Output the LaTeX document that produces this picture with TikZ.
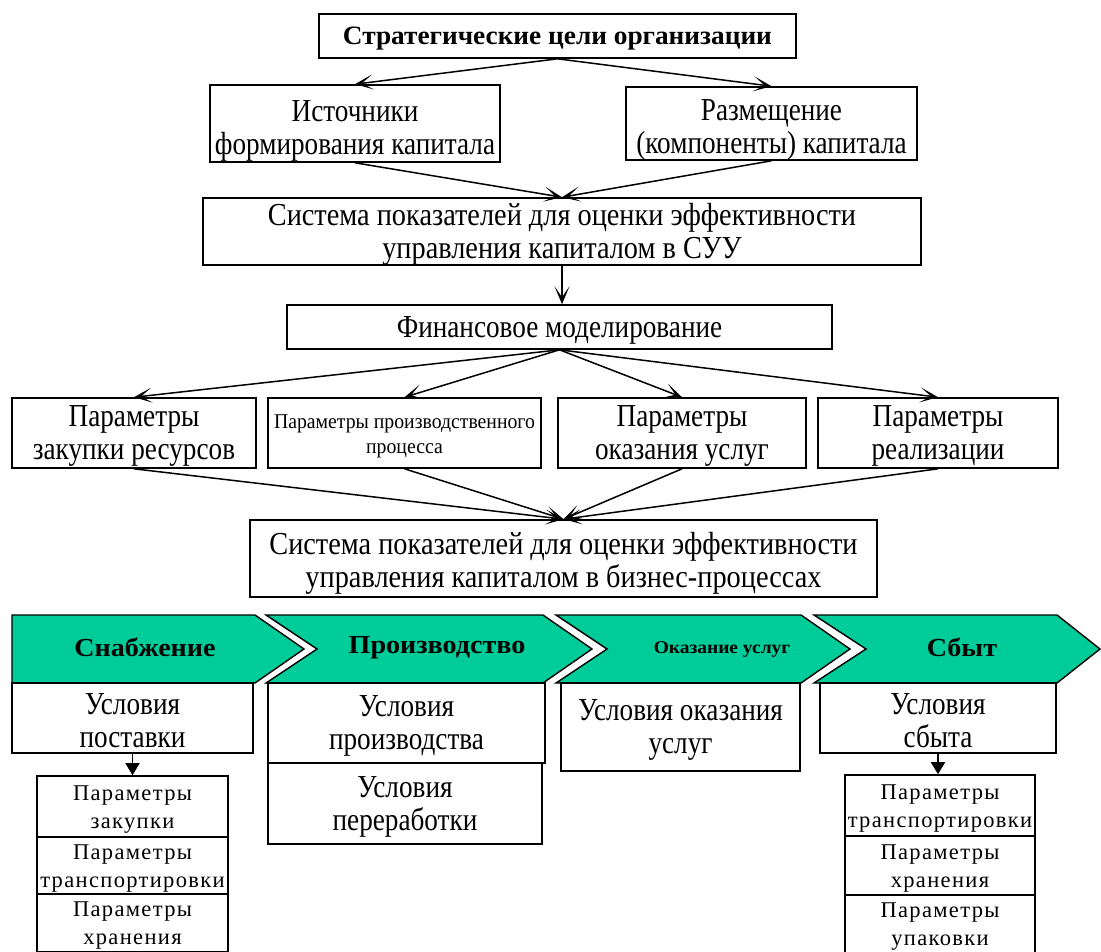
\documentclass[tikz,border=0pt]{standalone}
\usepackage{fontspec}
\setmainfont{Liberation Serif}
\newfontfamily\bodyfont[FakeStretch=0.85]{Liberation Serif}
\newfontfamily\widefont[FakeStretch=0.885]{Liberation Serif}
\newfontfamily\smallfont[FakeStretch=0.94]{Liberation Serif}
\newfontfamily\titlefont[FakeStretch=1.03]{Liberation Serif}
\newfontfamily\chevfont[FakeStretch=1.08]{Liberation Serif}
\newfontfamily\okfont[FakeStretch=1.08]{Liberation Serif}
\newfontfamily\spacedfont[LetterSpace=6]{Liberation Serif}
\usetikzlibrary{arrows.meta}
\definecolor{chevgreen}{RGB}{0,204,153}
\tikzset{
  frame/.style={draw=black, line width=1.6pt, fill=white, inner sep=0pt},
  body/.style={inner sep=0pt, align=center, font=\bodyfont\fontsize{32}{33}\selectfont},
  widebody/.style={inner sep=0pt, align=center, font=\widefont\fontsize{32}{33}\selectfont},
  smallbody/.style={inner sep=0pt, align=center, font=\smallfont\fontsize{21}{25}\selectfont},
  spaced/.style={inner sep=0pt, align=center, font=\spacedfont\fontsize{22.5}{28}\selectfont},
  titletext/.style={inner sep=0pt, font=\titlefont\bfseries\fontsize{26.5}{30}\selectfont},
  chev/.style={draw=black, line width=1.4pt, fill=chevgreen},
  chevlabel/.style={inner sep=0pt, font=\chevfont\bfseries\fontsize{26}{30}\selectfont},
  conn/.style={line width=1.5pt, -{Stealth[length=18pt,width=15pt,inset=11pt]}},
  down/.style={line width=1.6pt, -{Triangle[length=12pt,width=14pt]}}
}
% [extra text drop], name, cx, cy, w, h, text style, text
\newcommand\tbox[8][0]{%
  \node[frame, minimum width=#5pt, minimum height=#6pt] (#2) at (#3,#4) {};
  \node[#7] (#2-t) at ([yshift={-(3+#1)*1pt}]#2.center) {#8};}
\begin{document}
\begin{tikzpicture}[x=1pt,y=-1pt]
\clip (0,0) rectangle (1101,951);
\fill[white] (0,0) rectangle (1101,951);

% top part
\tbox{goal}{557.5}{36}{477}{44}{titletext}{Стратегические цели организации}
\tbox[4]{src}{355}{123.5}{290}{77}{body}{Источники\\формирования капитала}
\tbox[3]{plc}{771.5}{123.5}{291}{73}{body}{Размещение\\(компоненты) капитала}
\tbox{suu}{562}{231.5}{718}{67}{widebody}{Система показателей для оценки эффективности\\управления капиталом в СУУ}
\tbox{fin}{559.5}{327}{545}{44}{body}{Финансовое моделирование}

\tbox{p1}{134}{433}{244}{70}{body}{Параметры\\закупки ресурсов}
\tbox{p2}{404.5}{433}{273}{70}{smallbody}{Параметры производственного\\процесса}
\tbox{p3}{682}{433}{248}{70}{body}{Параметры\\оказания услуг}
\tbox{p4}{938}{433}{240}{70}{body}{Параметры\\реализации}

\tbox[2]{bp}{563.5}{558.5}{627}{77}{widebody}{Система показателей для оценки эффективности\\управления капиталом в бизнес-процессах}

\draw[conn] (goal.south) -- (src.north);
\draw[conn] (goal.south) -- (plc.north);
\draw[conn] (src.south) -- (suu.north);
\draw[conn] (plc.south) -- (suu.north);
\draw[conn] (suu.south) -- (suu.south |- fin.north);
\foreach \p in {p1,p2,p3,p4} {
  \draw[conn] (fin.south) -- (\p.north);
  \draw[conn] (\p.south) -- (bp.north);
}

% chevrons
\draw[chev] (12,615) -- (255,615) -- (304,649) -- (255,683) -- (12,683) -- cycle;
\draw[chev] (266,615) -- (543,615) -- (592,649) -- (543,683) -- (266,683) -- (317,649) -- cycle;
\draw[chev] (556,615) -- (801,615) -- (850,649) -- (801,683) -- (556,683) -- (607,649) -- cycle;
\draw[chev] (814,615) -- (1057,615) -- (1100,649) -- (1057,683) -- (814,683) -- (866,649) -- cycle;
\node[chevlabel] (c1) at (145,647) {Снабжение};
\node[chevlabel] (c2) at (437,648) {Производство};
\node[chevlabel, font=\okfont\bfseries\fontsize{18}{22}\selectfont] (c3) at (722,649) {Оказание услуг};
\node[chevlabel] (c4) at (962,647) {Сбыт};

% lower boxes
\tbox{us1}{132.5}{718}{241}{70}{body}{Условия\\поставки}
\tbox{s1a}{132.5}{806.5}{191}{61}{spaced}{Параметры\\закупки}
\tbox{s1b}{132.5}{865.5}{191}{57}{spaced}{Параметры\\транспортировки}
\tbox{s1c}{132.5}{923}{191}{58}{spaced}{Параметры\\хранения}
\draw[down] (us1.south) -- (s1a.north);

\tbox{up}{406.5}{723}{277}{80}{body}{Условия\\производства}
\tbox{pr}{405}{803.5}{274}{81}{body}{Условия\\переработки}

\tbox{uo}{680.5}{727}{239}{88}{body}{Условия оказания\\услуг}

\tbox{usb}{938}{718}{236}{70}{body}{Условия\\сбыта}
\tbox{s2a}{940}{805.5}{190}{61}{spaced}{Параметры\\транспортировки}
\tbox{s2b}{940}{865.5}{190}{59}{spaced}{Параметры\\хранения}
\tbox{s2c}{940}{924}{190}{58}{spaced}{Параметры\\упаковки}
\draw[down] (usb.south) -- (usb.south |- s2a.north);
\end{tikzpicture}
\end{document}
